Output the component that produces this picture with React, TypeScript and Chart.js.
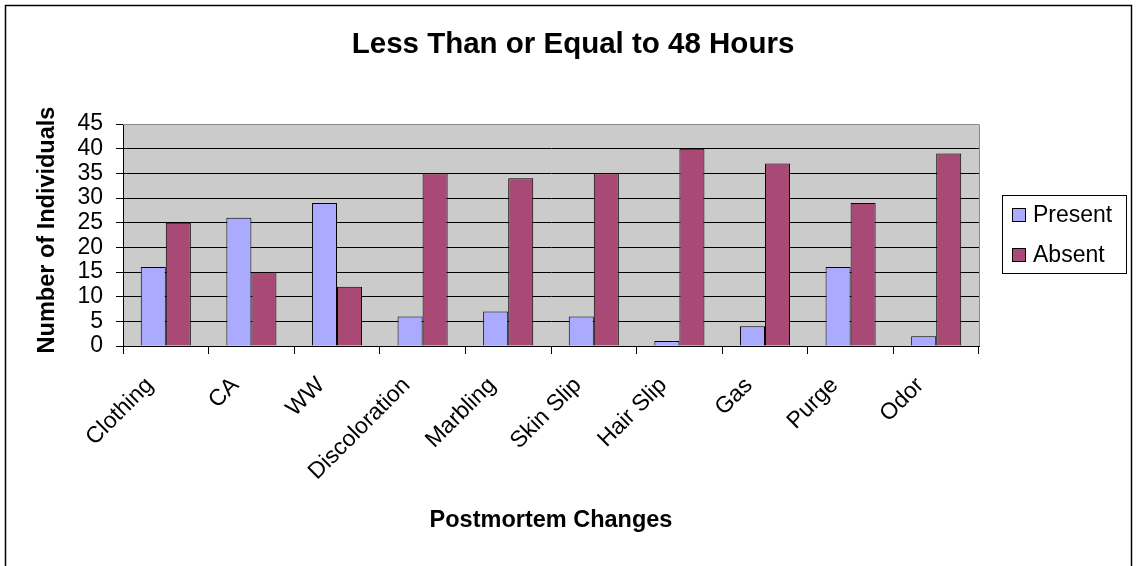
import React, { useEffect, useRef } from "react";
import { Chart, registerables } from "chart.js";

Chart.register(...registerables);

const chartTitle = "Less Than or Equal to 48 Hours";
const xAxisTitle = "Postmortem Changes";
const yAxisTitle = "Number of Individuals";
const categories = ["Clothing", "CA", "WW", "Discoloration", "Marbling", "Skin Slip", "Hair Slip", "Gas", "Purge", "Odor"];
const presentValues = [16, 26, 29, 6, 7, 6, 1, 4, 16, 2];
const absentValues = [25, 15, 12, 35, 34, 35, 40, 37, 29, 39];
const seriesNames = ["Present", "Absent"];
const yMin = 0;
const yMax = 45;
const yStep = 5;

const FONT = "'Liberation Sans', Arial, sans-serif";
const W = 1136;
const H = 566;

const decorPlugin = {
  id: "decor",
  beforeDraw(chart: any) {
    const { ctx, chartArea } = chart;
    ctx.save();
    ctx.fillStyle = "#ffffff";
    ctx.fillRect(0, 0, W, H);
    ctx.fillStyle = "#cbcbcb";
    ctx.fillRect(chartArea.left, chartArea.top, chartArea.right - chartArea.left, chartArea.bottom - chartArea.top);
    ctx.restore();
  },
  afterDraw(chart: any) {
    const { ctx, chartArea } = chart;
    ctx.save();
    // plot area top/right border
    ctx.strokeStyle = "#8a8a8a";
    ctx.lineWidth = 1;
    ctx.beginPath();
    ctx.moveTo(chartArea.left, chartArea.top + 0.5);
    ctx.lineTo(chartArea.right + 0.5, chartArea.top + 0.5);
    ctx.lineTo(chartArea.right + 0.5, chartArea.bottom);
    ctx.stroke();
    // outer border
    ctx.strokeStyle = "#000000";
    ctx.lineWidth = 1.5;
    ctx.strokeRect(5.5, 5.5, 1126, 570);
    // title
    ctx.fillStyle = "#000";
    ctx.textAlign = "center";
    ctx.textBaseline = "middle";
    ctx.font = `bold 29.5px ${FONT}`;
    ctx.fillText(chartTitle, 573, 45);
    ctx.font = `bold 23.5px ${FONT}`;
    ctx.fillText(xAxisTitle, (chartArea.left + chartArea.right) / 2, 521);
    ctx.save();
    ctx.translate(48, 230);
    ctx.rotate(-Math.PI / 2);
    ctx.fillText(yAxisTitle, 0, 0);
    ctx.restore();
    // legend
    const lx = 1002, ly = 195, lw = 124, lh = 78;
    ctx.fillStyle = "#fff";
    ctx.fillRect(lx, ly, lw, lh);
    ctx.strokeStyle = "#000";
    ctx.lineWidth = 1;
    ctx.strokeRect(lx + 0.5, ly + 0.5, lw, lh);
    ctx.font = `23px ${FONT}`;
    ctx.textAlign = "left";
    chart.data.datasets.forEach((ds: any, i: number) => {
      const cy = ly + 20 + i * 40;
      ctx.fillStyle = ds.backgroundColor;
      ctx.fillRect(lx + 10, cy - 7, 14, 14);
      ctx.strokeStyle = "#000";
      ctx.strokeRect(lx + 10.5, cy - 6.5, 13, 13);
      ctx.fillStyle = "#000";
      ctx.fillText(ds.label, lx + 31, cy + 1);
    });
    ctx.restore();
  },
};

export default function App() {
  const ref = useRef<HTMLCanvasElement>(null);
  useEffect(() => {
    if (!ref.current) return;
    const chart = new Chart(ref.current, {
      type: "bar",
      data: {
        labels: categories,
        datasets: [
          {
            label: seriesNames[0],
            data: presentValues,
            backgroundColor: "#aaaaff",
            borderColor: "#000000",
            borderWidth: 1,
            categoryPercentage: 0.585,
            barPercentage: 1,
          },
          {
            label: seriesNames[1],
            data: absentValues,
            backgroundColor: "#a94a76",
            borderColor: "#000000",
            borderWidth: 1,
            categoryPercentage: 0.585,
            barPercentage: 1,
          },
        ],
      },
      options: {
        animation: false,
        responsive: false,
        layout: { padding: { left: 0, right: 157, top: 124, bottom: 0 } },
        plugins: {
          legend: { display: false },
          title: { display: false },
          tooltip: { enabled: false },
        },
        scales: {
          x: {
            offset: true,
            grid: {
              offset: true,
              drawOnChartArea: false,
              color: "#000",
              tickLength: 8,
            },
            border: { color: "#000", width: 1 },
            ticks: {
              autoSkip: false,
              minRotation: 45,
              maxRotation: 45,
              color: "#000",
              font: { family: FONT, size: 23 },
              padding: 18,
              labelOffset: -16,
            },
            afterFit: (s: any) => {
              s.height = 220;
            },
          },
          y: {
            min: yMin,
            max: yMax,
            ticks: {
              stepSize: yStep,
              autoSkip: false,
              color: "#000",
              font: { family: FONT, size: 23 },
              padding: 13,
            },
            grid: { color: "#000", tickLength: 7 },
            border: { color: "#000", width: 1 },
            afterFit: (s: any) => {
              s.width = 123;
            },
          },
        },
      },
      plugins: [decorPlugin],
    });
    return () => chart.destroy();
  }, []);
  return (
    <div style={{ position: "fixed", left: 0, top: 0 }}>
      <canvas ref={ref} width={W} height={H} style={{ width: W, height: H, display: "block" }} />
    </div>
  );
}
